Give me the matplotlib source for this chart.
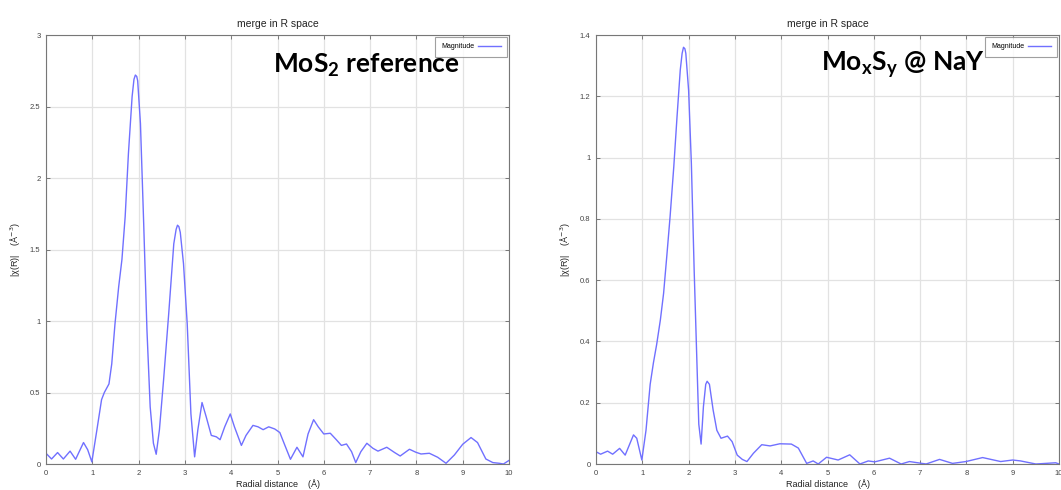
import matplotlib
matplotlib.use("Agg")
import matplotlib.pyplot as plt

# ---- data ----
r_mos2 = [0.0, 0.12, 0.25, 0.375, 0.52, 0.64, 0.81, 0.9, 0.99, 1.1, 1.2, 1.26, 1.36, 1.42, 1.49,
          1.57, 1.64, 1.71, 1.78, 1.86, 1.9, 1.93, 1.96, 1.98, 2.04, 2.11, 2.18, 2.25, 2.32, 2.38, 2.45,
          2.54, 2.65, 2.76, 2.81, 2.84, 2.87, 2.9, 2.97, 3.05, 3.13, 3.21, 3.28, 3.37, 3.46, 3.57, 3.68,
          3.76, 3.86, 3.98, 4.07, 4.22, 4.32, 4.47, 4.58, 4.69, 4.81, 4.94, 5.05, 5.16, 5.28,
          5.42, 5.55, 5.66, 5.78, 5.88, 6.0, 6.14, 6.27, 6.38, 6.49, 6.6, 6.69, 6.8, 6.93,
          7.06, 7.17, 7.36, 7.53, 7.65, 7.85, 7.99, 8.1, 8.28, 8.46, 8.64, 8.82, 9.0, 9.18,
          9.32, 9.5, 9.65, 9.79, 9.88, 10.0]
chi_mos2 = [0.075, 0.035, 0.08, 0.035, 0.09, 0.033, 0.15, 0.1, 0.015, 0.24, 0.45, 0.5, 0.56, 0.70, 0.98,
            1.24, 1.43, 1.73, 2.17, 2.57, 2.69, 2.72, 2.71, 2.68, 2.38, 1.68, 0.94, 0.40, 0.145, 0.068, 0.24,
            0.59, 1.05, 1.54, 1.64, 1.67, 1.66, 1.62, 1.40, 0.98, 0.35, 0.05, 0.24, 0.43, 0.33, 0.20, 0.19,
            0.17, 0.26, 0.35, 0.26, 0.13, 0.20, 0.27, 0.26, 0.24, 0.26, 0.245, 0.22, 0.13, 0.033,
            0.117, 0.05, 0.21, 0.31, 0.26, 0.21, 0.215, 0.17, 0.13, 0.14, 0.086, 0.01, 0.086, 0.145,
            0.11, 0.09, 0.117, 0.08, 0.056, 0.103, 0.082, 0.07, 0.075, 0.047, 0.005, 0.063, 0.138, 0.185,
            0.15, 0.035, 0.01, 0.005, 0.0, 0.025]

r_moxsy = [0.0, 0.1, 0.25, 0.36, 0.51, 0.63, 0.81, 0.88, 0.99, 1.08, 1.17, 1.24, 1.31, 1.39, 1.46,
           1.53, 1.6, 1.68, 1.75, 1.82, 1.86, 1.89, 1.92, 1.94, 2.0, 2.06, 2.12, 2.18, 2.22, 2.27, 2.32, 2.37, 2.4,
           2.45, 2.53, 2.61, 2.7, 2.84, 2.94, 3.05, 3.16, 3.26, 3.4, 3.58, 3.76, 3.97, 4.22,
           4.37, 4.55, 4.69, 4.8, 4.98, 5.23, 5.48, 5.7, 5.88, 6.02, 6.34, 6.59, 6.77, 7.13,
           7.42, 7.7, 7.99, 8.35, 8.74, 9.0, 9.17, 9.5, 9.93, 10.0]
chi_moxsy = [0.04, 0.032, 0.042, 0.032, 0.051, 0.029, 0.095, 0.084, 0.013, 0.11, 0.26, 0.33, 0.39, 0.47, 0.557,
             0.68, 0.807, 0.97, 1.133, 1.286, 1.34, 1.36, 1.355, 1.34, 1.22, 0.98, 0.633, 0.33, 0.13, 0.065, 0.187, 0.26, 0.27,
             0.26, 0.176, 0.11, 0.084, 0.091, 0.073, 0.029, 0.015, 0.008, 0.035, 0.063, 0.059, 0.066, 0.065,
             0.052, 0.002, 0.01, 0.0, 0.022, 0.013, 0.03, 0.0, 0.01, 0.007, 0.019, 0.0, 0.008, 0.0,
             0.015, 0.002, 0.008, 0.021, 0.008, 0.013, 0.01, 0.0, 0.004, 0.0]

panels = [
    dict(x=r_mos2, y=chi_mos2, ylim=(0, 3), yticks=[0, 0.5, 1, 1.5, 2, 2.5, 3],
         yticklabels=["0", "0.5", "1", "1.5", "2", "2.5", "3"],
         label=r"MoS$_\mathregular{2}$ reference", lx=0.49, ly=0.93),
    dict(x=r_moxsy, y=chi_moxsy, ylim=(0, 1.4), yticks=[0, 0.2, 0.4, 0.6, 0.8, 1, 1.2, 1.4],
         yticklabels=["0", "0.2", "0.4", "0.6", "0.8", "1", "1.2", "1.4"],
         label=r"Mo$_\mathregular{x}$S$_\mathregular{y}$ @ NaY", lx=0.485, ly=0.93),
]
xticks = list(range(0, 11))

W, H = 1061, 490
fig = plt.figure(figsize=(W / 100, H / 100), dpi=100)
plt.rcParams['font.family'] = ['Liberation Sans', 'DejaVu Sans']

lefts = [46, 596]
for left, p in zip(lefts, panels):
    ax = fig.add_axes([left / W, (H - 464) / H, 463 / W, 429 / H])
    ax.plot(p["x"], p["y"], color="#7070ff", lw=1.0, label="Magnitude")
    ax.set_xlim(0, 10)
    ax.set_ylim(*p["ylim"])
    ax.set_xticks(xticks)
    ax.set_xticklabels([str(t) for t in xticks])
    ax.set_yticks(p["yticks"])
    ax.set_yticklabels(p["yticklabels"])
    ax.grid(True, color="#e2e2e2", lw=0.9)
    ax.set_axisbelow(True)
    ax.tick_params(direction="in", top=True, right=True, length=3, width=0.6,
                   colors="#666666", labelsize=5.5, labelcolor="#444444", pad=4)
    for s in ax.spines.values():
        s.set_color("#777777")
        s.set_linewidth(0.8)
    ax.set_title("merge in R space", fontsize=7.5, color="#222222", pad=6)
    ax.set_xlabel("Radial distance    (Å)", fontsize=6.5, color="#222222", labelpad=2)
    ax.set_ylabel("|χ(R)|    (Å$^{-3}$)", fontsize=6.5, color="#222222", labelpad=5)
    leg = ax.legend(loc="upper right", fontsize=5, frameon=True, fancybox=False,
                    borderaxespad=0.3, handlelength=3.2, borderpad=0.9,
                    markerfirst=False, handletextpad=0.6)
    leg.get_frame().set_edgecolor("#888888")
    leg.get_frame().set_linewidth(0.8)
    ax.text(p["lx"], p["ly"], p["label"], transform=ax.transAxes, fontsize=19,
            fontweight="bold", family=["Lato", "DejaVu Sans"], color="black",
            ha="left", va="center")

fig.savefig("out.png", dpi=100)
